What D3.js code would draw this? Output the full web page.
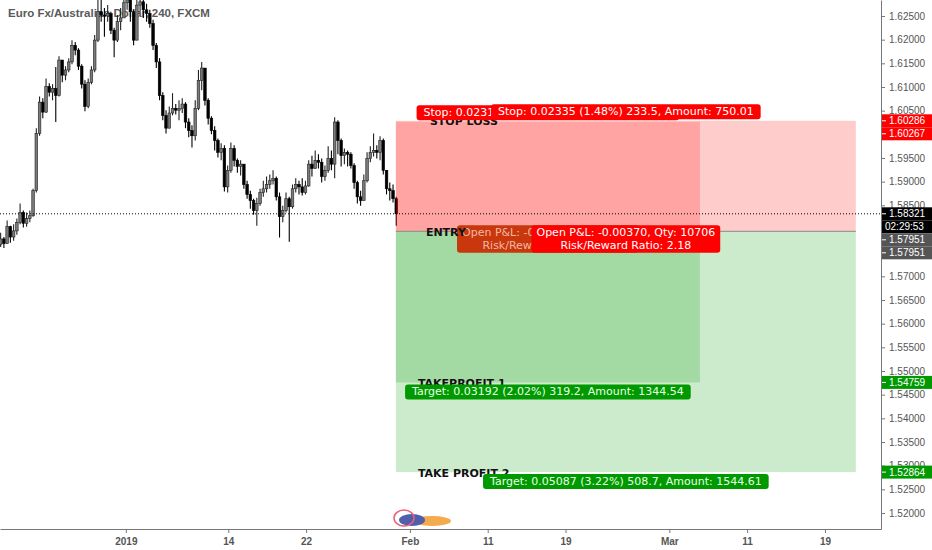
<!DOCTYPE html>
<html>
<head>
<meta charset="utf-8">
<script src="https://cdn.jsdelivr.net/npm/d3@7"></script>
<style>
  body { margin: 0; background: #fff; }
  svg { display: block; }
</style>
</head>
<body>
<svg id="chart"></svg>
<script>
// EUR/AUD 240 candles (open = previous close)
const firstOpen = 1.5767;
const closes = [
  1.5779, 1.5769, 1.5805, 1.5783, 1.5796, 1.5814, 1.5835, 1.5812, 1.5822, 1.5828,
  1.5881, 1.6002, 1.6068, 1.6047, 1.6101, 1.6089, 1.6097, 1.6082, 1.6157, 1.6125,
  1.6136, 1.6153, 1.6188, 1.6178, 1.6144, 1.6106, 1.6059, 1.6110, 1.6136, 1.6199,
  1.6259, 1.6252, 1.6250, 1.6255, 1.6220, 1.6199, 1.6238, 1.6246, 1.6278, 1.6284,
  1.6259, 1.6199, 1.6273, 1.6280, 1.6263, 1.6255, 1.6234, 1.6188, 1.6153, 1.6082,
  1.6040, 1.6013, 1.6045, 1.6055, 1.6051, 1.6055, 1.6064, 1.6026, 1.6008, 1.5997,
  1.6055, 1.6114, 1.6140, 1.6072, 1.6034, 1.6008, 1.5987, 1.5962, 1.5970, 1.5889,
  1.5924, 1.5970, 1.5945, 1.5932, 1.5937, 1.5894, 1.5873, 1.5860, 1.5839, 1.5854,
  1.5877, 1.5885, 1.5894, 1.5902, 1.5907, 1.5868, 1.5826, 1.5839, 1.5864, 1.5847,
  1.5885, 1.5894, 1.5889, 1.5877, 1.5891, 1.5937, 1.5928, 1.5945, 1.5941, 1.5911,
  1.5924, 1.5949, 1.5937, 1.6026, 1.5987, 1.5955, 1.5962, 1.5958, 1.5934, 1.5898,
  1.5868, 1.5860, 1.5902, 1.5949, 1.5962, 1.5966, 1.5962, 1.5987, 1.5924, 1.5885,
  1.5881, 1.5864, 1.5832
];
const highs = [
  1.5792, 1.5783, 1.5818, 1.5807, 1.5810, 1.5822, 1.5854, 1.5839, 1.5835, 1.5839,
  1.5885, 1.6013, 1.6080, 1.6076, 1.6118, 1.6108, 1.6106, 1.6142, 1.6165, 1.6157,
  1.6144, 1.6161, 1.6199, 1.6195, 1.6182, 1.6148, 1.6114, 1.6118, 1.6144, 1.6210,
  1.6295, 1.6288, 1.6267, 1.6273, 1.6259, 1.6225, 1.6252, 1.6267, 1.6301, 1.6305,
  1.6295, 1.6263, 1.6301, 1.6305, 1.6297, 1.6276, 1.6263, 1.6242, 1.6193, 1.6161,
  1.6089, 1.6051, 1.6059, 1.6087, 1.6064, 1.6072, 1.6076, 1.6068, 1.6034, 1.6019,
  1.6072, 1.6136, 1.6153, 1.6136, 1.6076, 1.6038, 1.6017, 1.5991, 1.5981, 1.5977,
  1.5934, 1.5983, 1.5977, 1.5949, 1.5945, 1.5932, 1.5902, 1.5881, 1.5864, 1.5866,
  1.5885, 1.5902, 1.5911, 1.5915, 1.5924, 1.5911, 1.5877, 1.5849, 1.5877, 1.5868,
  1.5894, 1.5907, 1.5902, 1.5907, 1.5902, 1.5945, 1.5955, 1.5966, 1.5958, 1.5949,
  1.5934, 1.5975, 1.5966, 1.6036, 1.6030, 1.5991, 1.5970, 1.5966, 1.5962, 1.5939,
  1.5902, 1.5881, 1.5915, 1.5962, 1.5975, 1.6002, 1.5977, 1.5996, 1.5991, 1.5924,
  1.5898, 1.5894, 1.5868
];
const lows = [
  1.5762, 1.5760, 1.5773, 1.5771, 1.5775, 1.5788, 1.5810, 1.5803, 1.5805, 1.5814,
  1.5826, 1.5877, 1.5997, 1.6034, 1.6045, 1.6080, 1.6072, 1.6026, 1.6080, 1.6110,
  1.6114, 1.6131, 1.6148, 1.6167, 1.6136, 1.6097, 1.6049, 1.6055, 1.6106, 1.6131,
  1.6195, 1.6238, 1.6206, 1.6238, 1.6212, 1.6163, 1.6195, 1.6220, 1.6246, 1.6263,
  1.6238, 1.6188, 1.6203, 1.6259, 1.6246, 1.6238, 1.6225, 1.6178, 1.6140, 1.6072,
  1.6030, 1.6002, 1.6013, 1.6040, 1.6042, 1.6030, 1.6045, 1.6013, 1.5994, 1.5972,
  1.5987, 1.6051, 1.6093, 1.6061, 1.6021, 1.6000, 1.5966, 1.5951, 1.5945, 1.5879,
  1.5877, 1.5919, 1.5932, 1.5919, 1.5913, 1.5885, 1.5864, 1.5843, 1.5830, 1.5807,
  1.5849, 1.5868, 1.5877, 1.5885, 1.5894, 1.5860, 1.5782, 1.5814, 1.5835, 1.5773,
  1.5843, 1.5877, 1.5873, 1.5871, 1.5873, 1.5889, 1.5911, 1.5928, 1.5928, 1.5898,
  1.5902, 1.5919, 1.5924, 1.5907, 1.5958, 1.5932, 1.5937, 1.5932, 1.5928, 1.5885,
  1.5854, 1.5849, 1.5860, 1.5898, 1.5941, 1.5953, 1.5949, 1.5945, 1.5915, 1.5873,
  1.5860, 1.5856, 1.5807
];
// bars are placed in trading days, Feb 1 = day 0
const barStartDay = -31.55;
const barStepDay = 0.25;

// time axis
const tickDays = [-21.9, -14, -8, 0, 6, 12, 20, 26, 32];
const tickLabels = ["2019", "14", "22", "Feb", "11", "19", "Mar", "11", "19"];

// long position tools
const entryPrice = 1.57951;
const lastPrice = 1.58321;
const countdown = "02:29:53";
const toolStartDay = -1.08;
const toolEndDays = [22.36, 34.38];
const stopPrices = [1.60267, 1.60286];
const targetPrices = [1.54759, 1.52864];
const stopTexts = [
  "Stop: 0.02316 (1.47%) 231.6, Amount: 75.01",
  "Stop: 0.02335 (1.48%) 233.5, Amount: 750.01"
];
const entryTexts = [
  ["Open P&L: -0.00370, Qty: 1079", "Risk/Reward Ratio: 1.38"],
  ["Open P&L: -0.00370, Qty: 10706", "Risk/Reward Ratio: 2.18"]
];
const targetTexts = [
  "Target: 0.03192 (2.02%) 319.2, Amount: 1344.54",
  "Target: 0.05087 (3.22%) 508.7, Amount: 1544.61"
];
const levelNames = ["STOP LOSS", "ENTRY", "TAKEPROFIT 1", "TAKE PROFIT 2"];

const width = 932;
const height = 550;
const plotW = 881;
const plotH = 529;

const svg = d3.select("#chart").attr("width", width).attr("height", height);

const x = d3.scaleLinear().domain([-31.6, 36.32]).range([0, plotW]);
const y = d3.scaleLinear().domain([1.51662, 1.62838]).range([plotH, 0]);

svg.append("defs").append("clipPath").attr("id", "plot-clip")
  .append("rect").attr("width", plotW).attr("height", plotH);

const plot = svg.append("g").attr("clip-path", "url(#plot-clip)");

// title sits under the candles
plot.append("text")
  .attr("x", 8).attr("y", 17)
  .attr("font-family", "'Liberation Sans', Arial, sans-serif")
  .attr("font-size", 11.5).attr("font-weight", "bold")
  .attr("fill", "#5a5a5a")
  .text("Euro Fx/Australian Dollar, 240, FXCM");

// candles
const bars = closes.map((c, i) => {
  const o = i === 0 ? firstOpen : closes[i - 1];
  return {
    day: barStartDay + i * barStepDay,
    o: o, c: c,
    h: Math.max(highs[i], o, c),
    l: Math.min(lows[i], o, c)
  };
});
const bodyW = 2.6;
const upFill = "#7a7a7a", upLine = "#222", downFill = "#000";

const candle = plot.append("g").selectAll("g").data(bars).join("g");
candle.append("line")
  .attr("x1", d => x(d.day)).attr("x2", d => x(d.day))
  .attr("y1", d => y(d.h)).attr("y2", d => y(d.l))
  .attr("stroke", d => d.c >= d.o ? upLine : downFill)
  .attr("stroke-width", 1.1);
candle.append("rect")
  .attr("x", d => x(d.day) - bodyW / 2)
  .attr("width", bodyW)
  .attr("y", d => y(Math.max(d.o, d.c)))
  .attr("height", d => Math.max(1, Math.abs(y(d.o) - y(d.c))))
  .attr("fill", d => d.c >= d.o ? upFill : downFill)
  .attr("stroke", d => d.c >= d.o ? upLine : downFill)
  .attr("stroke-width", 0.6);

// position tools (semi transparent, overlap darker)
const tools = toolEndDays.map((end, i) => ({
  x0: x(toolStartDay), x1: x(end),
  stop: stopPrices[i], target: targetPrices[i]
}));
const zones = plot.append("g");
tools.forEach(t => {
  zones.append("rect")
    .attr("x", t.x0).attr("width", t.x1 - t.x0)
    .attr("y", y(t.stop)).attr("height", y(entryPrice) - y(t.stop))
    .attr("fill", "rgba(255,0,0,0.2)");
  zones.append("rect")
    .attr("x", t.x0).attr("width", t.x1 - t.x0)
    .attr("y", y(entryPrice)).attr("height", y(t.target) - y(entryPrice))
    .attr("fill", "rgba(0,150,0,0.2)");
});
zones.append("line")
  .attr("x1", tools[1].x0).attr("x2", tools[1].x1)
  .attr("y1", y(entryPrice)).attr("y2", y(entryPrice))
  .attr("stroke", "#8a8a8a").attr("stroke-width", 1);

// last price dotted line
plot.append("line")
  .attr("x1", 0).attr("x2", plotW)
  .attr("y1", y(lastPrice)).attr("y2", y(lastPrice))
  .attr("stroke", "#000").attr("stroke-width", 1)
  .attr("stroke-dasharray", "1,2");

// info boxes
const labelFont = "'DejaVu Sans', Verdana, sans-serif";
function infoBox(g, cx, top, lines, fill, color, pad) {
  const box = g.append("g");
  const rect = box.append("rect").attr("rx", 3).attr("fill", fill);
  const lineH = 12.5;
  let maxW = 0;
  lines.forEach((s, k) => {
    const t = box.append("text")
      .attr("x", cx).attr("y", top + 11 + k * lineH)
      .attr("text-anchor", "middle")
      .attr("font-family", labelFont).attr("font-size", 11)
      .attr("fill", color).text(s);
    maxW = Math.max(maxW, t.node().getComputedTextLength());
  });
  const w = maxW + 2 * pad;
  rect.attr("x", cx - w / 2).attr("y", top)
    .attr("width", w).attr("height", lines.length * lineH + 2.5);
}

// layers: first entry box, level names, then the rest of the boxes
const lowerBoxes = plot.append("g");
const names = plot.append("g");
const boxes = plot.append("g");

const levelPrices = [stopPrices[1], entryPrice, targetPrices[0], targetPrices[1]];
const levelOffsets = [34, 30, 22, 22];
names.selectAll("text").data(levelNames).join("text")
  .attr("x", (d, i) => tools[0].x0 + levelOffsets[i])
  .attr("y", (d, i) => y(levelPrices[i]) + 4.5)
  .attr("font-family", "'DejaVu Sans', Verdana, sans-serif")
  .attr("font-size", 11).attr("font-weight", "bold")
  .attr("fill", "#111")
  .text(d => d);

tools.forEach((t, i) => {
  const cx = (t.x0 + t.x1) / 2;
  infoBox(boxes, cx, y(t.stop) - 16.5, [stopTexts[i]], "#ff0000", "#fff", 7);
});
tools.forEach((t, i) => {
  const cx = (t.x0 + t.x1) / 2;
  if (i === 0) infoBox(lowerBoxes, cx, y(entryPrice) - 6, entryTexts[i], "#c8380c", "#f4b7a4", 5);
  else infoBox(boxes, cx, y(entryPrice) - 6, entryTexts[i], "#ff0000", "#fff", 5);
});
tools.forEach((t, i) => {
  const cx = (t.x0 + t.x1) / 2;
  infoBox(boxes, cx, y(t.target) + 2, [targetTexts[i]], "#009a00", "#e8ffe8", 7);
});

// small logo watermark
const logo = svg.append("g").attr("opacity", 0.9);
logo.append("ellipse").attr("cx", 432).attr("cy", 521).attr("rx", 19).attr("ry", 5).attr("fill", "#f2a23a");
logo.append("ellipse").attr("cx", 412).attr("cy", 520).attr("rx", 13).attr("ry", 6).attr("fill", "#3c4ea2");
logo.append("ellipse").attr("cx", 404).attr("cy", 518).attr("rx", 10).attr("ry", 8)
  .attr("fill", "none").attr("stroke", "#e8506a").attr("stroke-width", 1.5);

// right price axis
const priceTicks = d3.range(1.52, 1.6251, 0.005);
const yAxis = svg.append("g")
  .attr("transform", `translate(${plotW},0)`)
  .call(d3.axisRight(y).tickValues(priceTicks).tickFormat(d3.format(".5f"))
    .tickSize(4).tickSizeOuter(0).tickPadding(4));
yAxis.select(".domain").attr("stroke", "#777");
yAxis.selectAll(".tick line").attr("stroke", "#777");
yAxis.selectAll(".tick text")
  .attr("font-family", "'Liberation Sans', Arial, sans-serif")
  .attr("font-size", 10).attr("fill", "#555");

// bottom time axis
const xAxis = svg.append("g")
  .attr("transform", `translate(0,${plotH})`)
  .call(d3.axisBottom(x).tickValues(tickDays).tickFormat((d, i) => tickLabels[i])
    .tickSize(4).tickSizeOuter(0).tickPadding(5));
xAxis.select(".domain").attr("stroke", "#777");
xAxis.selectAll(".tick line").attr("stroke", "#777");
xAxis.selectAll(".tick text")
  .attr("font-family", "'Liberation Sans', Arial, sans-serif")
  .attr("font-size", 10).attr("font-weight", "bold").attr("fill", "#555");

// price tags on the axis, stacked so they do not overlap
const tags = [
  { price: stopPrices[1], text: "1.60286", fill: "#ff0000", tick: true },
  { price: stopPrices[0], text: "1.60267", fill: "#ff0000", tick: true },
  { price: lastPrice, text: "1.58321", fill: "#000", tick: true },
  { price: lastPrice, text: countdown, fill: "#000", tick: false },
  { price: entryPrice, text: "1.57951", fill: "#555", tick: true },
  { price: entryPrice, text: "1.57951", fill: "#555", tick: true },
  { price: targetPrices[0], text: "1.54759", fill: "#009a00", tick: true },
  { price: targetPrices[1], text: "1.52864", fill: "#009a00", tick: true }
];
const tagH = 13;
let prev = -Infinity;
tags.forEach(t => {
  t.cy = Math.max(y(t.price), prev + tagH);
  prev = t.cy;
});
// hide axis labels fully under a tag
yAxis.selectAll(".tick text").attr("opacity", d =>
  tags.some(t => Math.abs(y(d) - t.cy) < 4) ? 0 : 1);

const tagG = svg.append("g").selectAll("g").data(tags).join("g");
tagG.append("rect")
  .attr("x", plotW + 1).attr("y", d => d.cy - tagH / 2)
  .attr("width", width - plotW).attr("height", tagH)
  .attr("fill", d => d.fill);
tagG.filter(d => d.tick).append("line")
  .attr("x1", plotW + 1).attr("x2", plotW + 5)
  .attr("y1", d => d.cy).attr("y2", d => d.cy)
  .attr("stroke", "#fff");
tagG.append("text")
  .attr("x", d => d.tick ? plotW + 8 : plotW + 4)
  .attr("y", d => d.cy)
  .attr("dominant-baseline", "central")
  .attr("font-family", "'Liberation Sans', Arial, sans-serif")
  .attr("font-size", 10).attr("fill", "#fff")
  .text(d => d.text);
</script>
</body>
</html>
